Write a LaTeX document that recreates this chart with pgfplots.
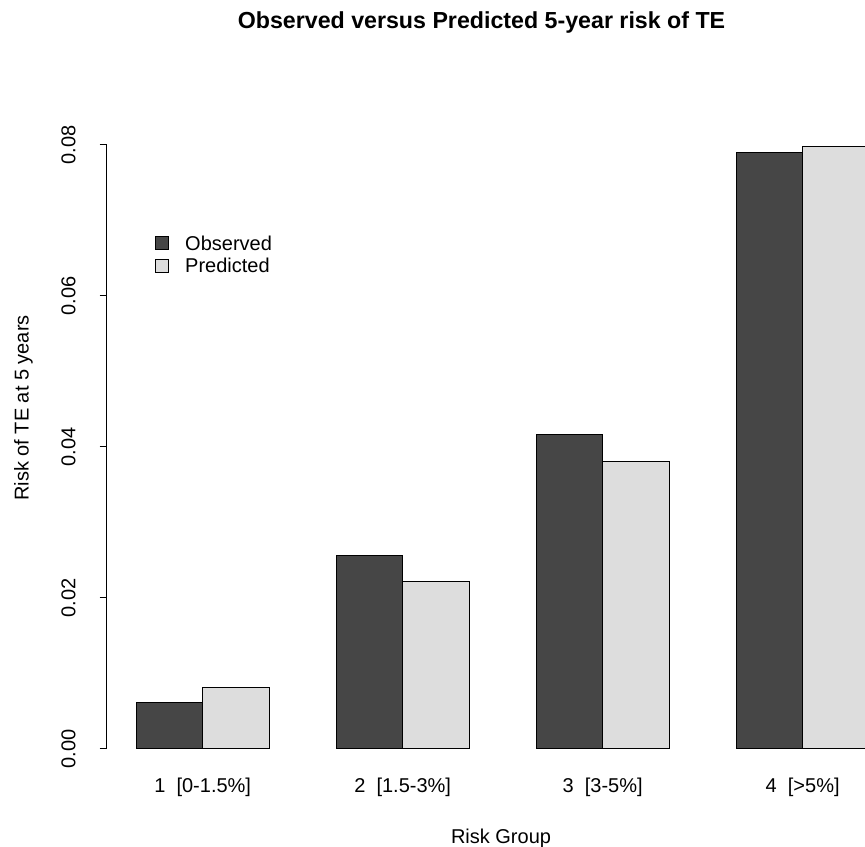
\documentclass[border=0pt]{standalone}
\usepackage{pgfplots}
\pgfplotsset{compat=1.18}
\usepackage{fontspec}
\setmainfont{Liberation Sans}
\definecolor{obs}{HTML}{464646}
\definecolor{pred}{HTML}{DDDDDD}
\begin{document}
\begin{tikzpicture}[font=\fontsize{10}{12}\selectfont]
\useasboundingbox (0,0) rectangle (432.5pt,423pt);
\begin{axis}[
  at={(53.35pt,36.5pt)}, anchor=south west,
  scale only axis, width=379.15pt, height=325pt,
  clip=false,
  xmin=0.56, xmax=11.935,
  ymin=-0.00319, ymax=0.08289,
  axis line style={draw=none},
  xtick={2,5,8,11},
  xticklabels={{1\ \ [0-1.5\%]},{2\ \ [1.5-3\%]},{3\ \ [3-5\%]},{4\ \ [>5\%]}},
  major x tick style={draw=none},
  xticklabel style={yshift=4.5pt},
  ytick={0,0.02,0.04,0.06,0.08},
  ytick pos=left,
  tick align=outside,
  major tick length=3.5pt,
  major y tick style={black, line width=0.5pt},
  yticklabel style={rotate=90, anchor=south, yshift=8.5pt,
    /pgf/number format/.cd, fixed, fixed zerofill, precision=2, assume math mode=true},
  scaled y ticks=false,
  title={Observed versus Predicted 5-year risk of TE},
  title style={font=\bfseries\fontsize{11.6}{13.9}\selectfont, at={(rel axis cs:0.4943,1.1354)}, anchor=center},
  xlabel={Risk Group},
  xlabel style={at={(rel axis cs:0.52,-0.100)}, anchor=center},
  ylabel={Risk of TE at 5 years},
  ylabel style={at={(rel axis cs:-0.1097,0.5615)}, anchor=center, rotate=0},
  legend style={at={(rel axis cs:0.0637,0.830)}, anchor=north west, draw=none, fill=none, inner sep=0pt, row sep=2pt,
    nodes={inner sep=1pt, text depth=0pt}},
  legend cell align=left,
  every axis plot/.append style={legend image code/.code={\draw[#1, draw=black, line width=0.5pt] (0pt,-3.2pt) rectangle (6.4pt,3.2pt);}},
  legend columns=1,
]
\addplot[ybar, bar width=1, bar shift=0, fill=obs, draw=black, line width=0.5pt]
  coordinates {(1.5,0.00609) (4.5,0.02556) (7.5,0.04159) (10.5,0.07894)};
\addlegendentry{\hspace{7pt}Observed}
\addplot[ybar, bar width=1, bar shift=0, fill=pred, draw=black, line width=0.5pt]
  coordinates {(2.5,0.00808) (5.5,0.02212) (8.5,0.03801) (11.5,0.07974)};
\addlegendentry{\hspace{7pt}Predicted}
\draw[black, line width=0.5pt] (axis cs:0.56,0) -- (axis cs:0.56,0.08);
\end{axis}
\end{tikzpicture}
\end{document}
